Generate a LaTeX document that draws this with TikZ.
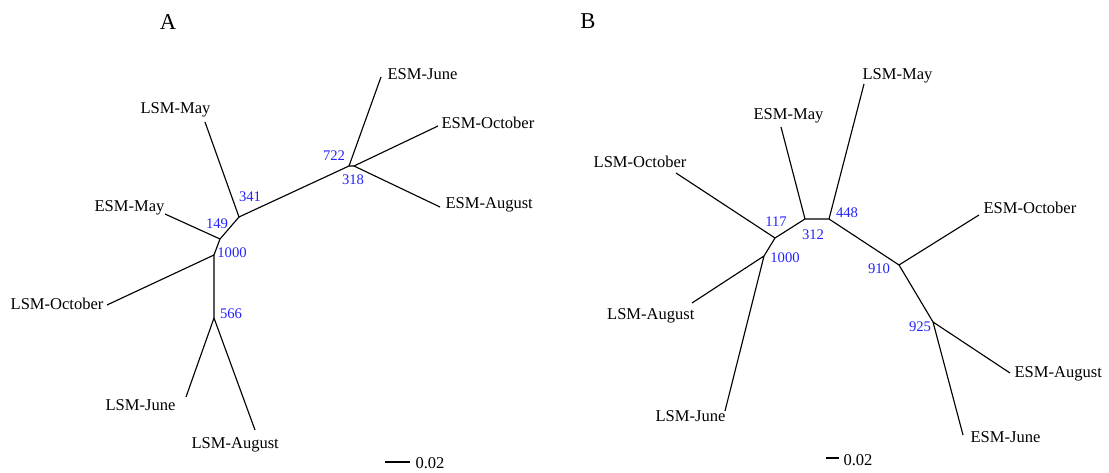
\documentclass[tikz,border=0pt]{standalone}
\usepackage{fontspec}
\setmainfont{Liberation Serif}
\definecolor{bootblue}{RGB}{35,35,250}

\begin{document}
\begin{tikzpicture}[x=0.75pt,y=-0.75pt,line width=0.85pt,line join=round,
  leaf/.style={inner sep=0pt,font=\fontsize{12.4}{14}\selectfont},
  boot/.style={inner sep=0pt,text=bootblue,font=\fontsize{11}{13}\selectfont},
  panel/.style={inner sep=0pt,font=\fontsize{17}{20}\selectfont}]
\useasboundingbox (0,0) rectangle (1109,473);

% tree A
\begin{scope}
  \node[panel] (titleA) at (168,22) {A};
  \coordinate (a341) at (239,217);
  \coordinate (a722) at (349,166);
  \coordinate (a318) at (354,166);
  \coordinate (a149) at (220,239);
  \coordinate (a1000) at (214,255);
  \coordinate (a566) at (214,318);
  \coordinate (aEJune) at (381,77);
  \coordinate (aEOct) at (438,126);
  \coordinate (aEAug) at (440,207);
  \coordinate (aLMay) at (205,122);
  \coordinate (aEMay) at (165,214);
  \coordinate (aLOct) at (107,305);
  \coordinate (aLJune) at (186,397);
  \coordinate (aLAug) at (255,430);
  \draw (a341) -- (a722) -- (a318);
  \draw (a722) -- (aEJune);
  \draw (aEOct) -- (a318) -- (aEAug);
  \draw (aLMay) -- (a341) -- (a149) -- (a1000) -- (a566);
  \draw (aEMay) -- (a149);
  \draw (aLOct) -- (a1000);
  \draw (aLJune) -- (a566) -- (aLAug);
  \node[leaf,anchor=west] (tEJuneA) at (387,74) {ESM-June};
  \node[leaf,anchor=west] (tEOctA) at (441,123) {ESM-October};
  \node[leaf,anchor=west] (tEAugA) at (445,205) {ESM-August};
  \node[leaf,anchor=east] (tLMayA) at (211,110) {LSM-May};
  \node[leaf,anchor=east] (tEMayA) at (165,208) {ESM-May};
  \node[leaf,anchor=east] (tLOctA) at (104,304) {LSM-October};
  \node[leaf,anchor=east] (tLJuneA) at (176,405) {LSM-June};
  \node[leaf,anchor=west] (tLAugA) at (191,445) {LSM-August};
  \foreach \p/\v in {{(334,156)}/722, {(353,180)}/318, {(250,197)}/341,
                     {(217,224)}/149, {(232,253)}/1000, {(231,314)}/566}
    \node[boot] (bootA\v) at \p {\v};
  \coordinate (barA) at (385,462);
  \coordinate (barAend) at (410,462);
  \draw (barA) -- (barAend);
  \node[leaf,anchor=west] (scaleA) at (415,463) {0.02};
\end{scope}

% tree B
\begin{scope}
  \node[panel] (titleB) at (588,21) {B};
  \coordinate (b117) at (775,238);
  \coordinate (b1000) at (764,256);
  \coordinate (b312) at (805,219);
  \coordinate (b448) at (829,219);
  \coordinate (b910) at (899,265);
  \coordinate (b925) at (933,322);
  \coordinate (bLMay) at (864,84);
  \coordinate (bEMay) at (781,127);
  \coordinate (bLOct) at (676,173);
  \coordinate (bEOct) at (979,215);
  \coordinate (bLAug) at (692,303);
  \coordinate (bLJune) at (725,411);
  \coordinate (bEAug) at (1010,373);
  \coordinate (bEJune) at (963,435);
  \draw (bLOct) -- (b117) -- (b312) -- (b448) -- (b910) -- (b925);
  \draw (b117) -- (b1000);
  \draw (bLAug) -- (b1000) -- (bLJune);
  \draw (bEMay) -- (b312);
  \draw (bLMay) -- (b448);
  \draw (bEOct) -- (b910);
  \draw (bEAug) -- (b925) -- (bEJune);
  \node[leaf,anchor=west] (tLMayB) at (862,76) {LSM-May};
  \node[leaf,anchor=west] (tEMayB) at (753,116) {ESM-May};
  \node[leaf,anchor=east] (tLOctB) at (687,162) {LSM-October};
  \node[leaf,anchor=west] (tEOctB) at (983,208) {ESM-October};
  \node[leaf,anchor=east] (tLAugB) at (695,316) {LSM-August};
  \node[leaf,anchor=east] (tLJuneB) at (726,416) {LSM-June};
  \node[leaf,anchor=west] (tEAugB) at (1014,374) {ESM-August};
  \node[leaf,anchor=west] (tEJuneB) at (970,437) {ESM-June};
  \foreach \p/\v in {{(776,222)}/117, {(813,235)}/312, {(847,213)}/448,
                     {(785,258)}/1000, {(879,269)}/910, {(920,327)}/925}
    \node[boot] (bootB\v) at \p {\v};
  \coordinate (barB) at (826,458);
  \coordinate (barBend) at (839,458);
  \draw (barB) -- (barBend);
  \node[leaf,anchor=west] (scaleB) at (843,460) {0.02};
\end{scope}
\end{tikzpicture}
\end{document}
